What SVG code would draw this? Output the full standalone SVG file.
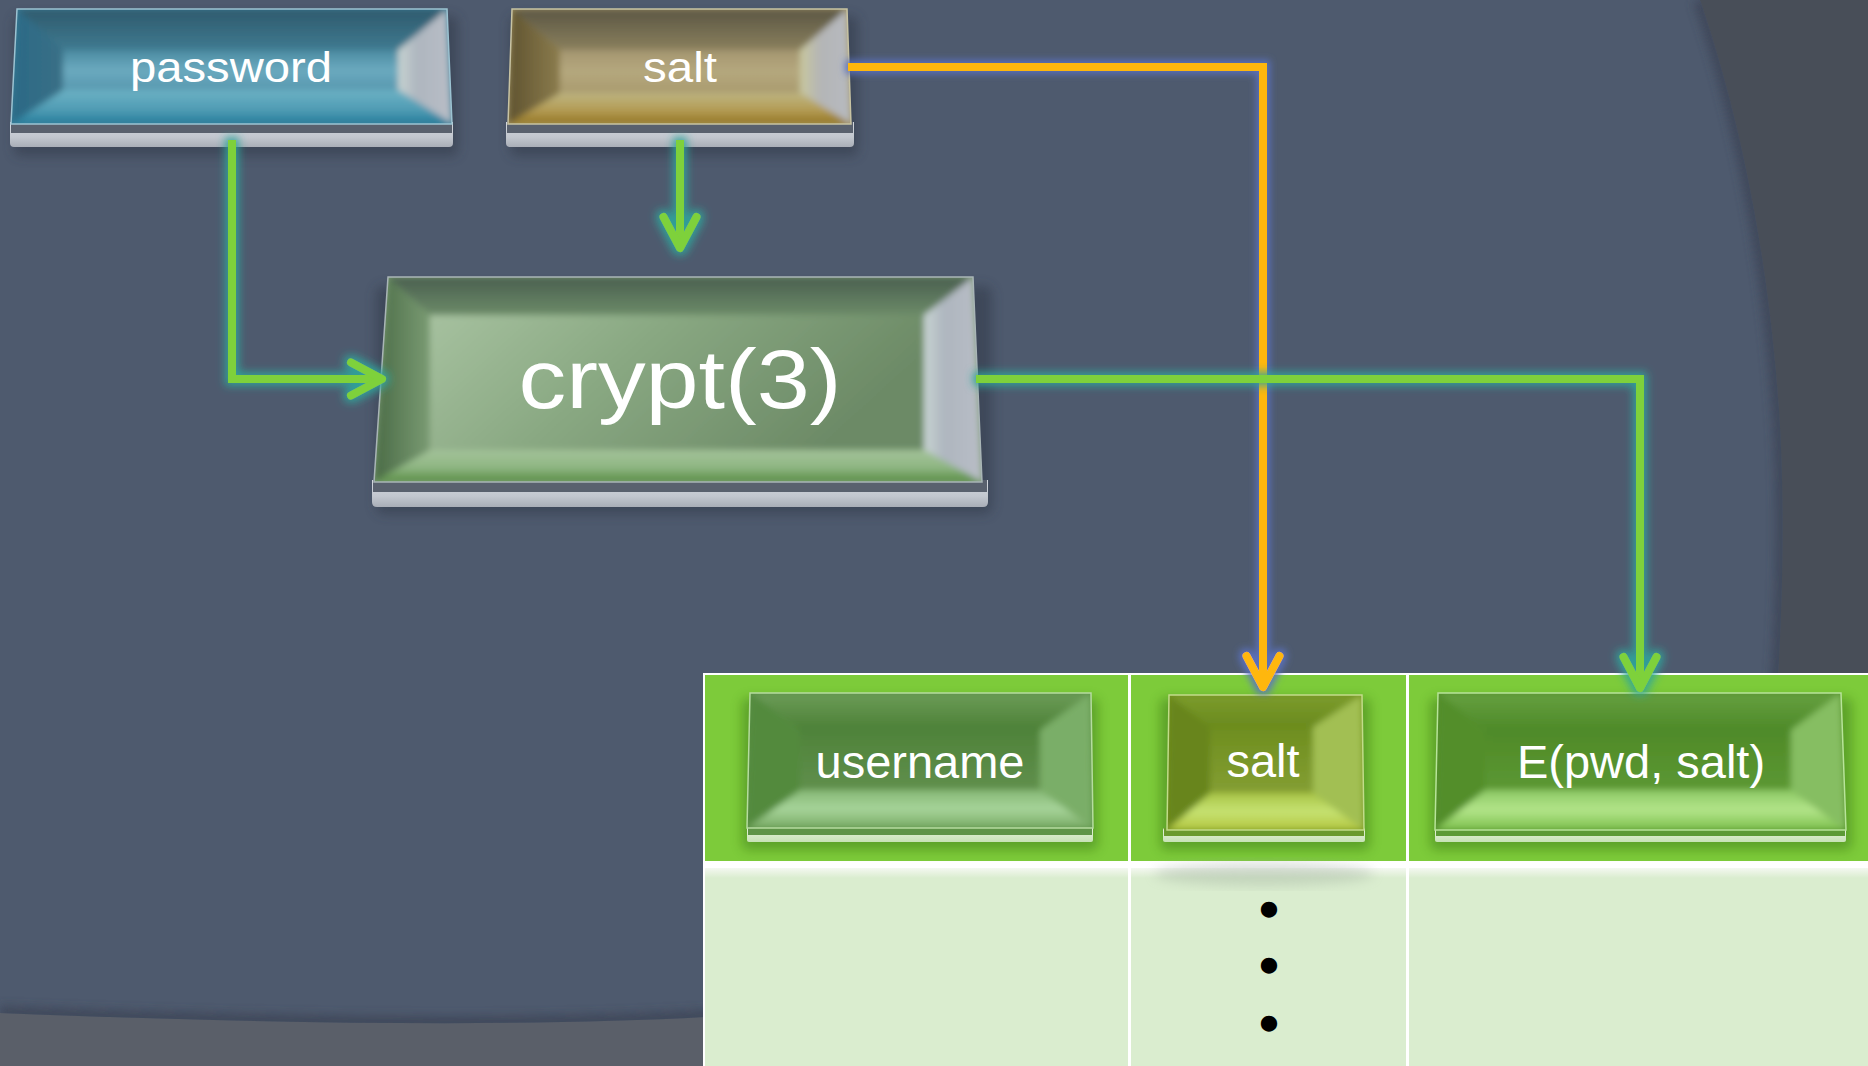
<svg xmlns="http://www.w3.org/2000/svg" width="1868" height="1066" viewBox="0 0 1868 1066">
  <defs>
    <style>
      .lbl{font-family:"Liberation Sans",Arial,Helvetica,sans-serif;fill:#ffffff;text-anchor:middle}
      .conn{fill:none;stroke-width:8}
      .green{stroke:#7ED13A}
      .orange{stroke:#FFB70A}
      .cell{fill:#7DCB3A}
      .body{fill:#DAEDCF}
      .rule{fill:#ffffff}
      .dot{font-family:"Liberation Sans",Arial,sans-serif;font-size:47px;fill:#000000;stroke:#000000;stroke-width:3.5px;text-anchor:middle}
    </style>

    <!-- glow around connectors -->
    <filter id="glowGreen" filterUnits="userSpaceOnUse" x="0" y="0" width="1868" height="1066">
      <feMorphology in="SourceAlpha" operator="dilate" radius="3" result="d"/>
      <feGaussianBlur in="d" stdDeviation="4" result="b"/>
      <feFlood flood-color="#2FA59B" flood-opacity="0.9"/>
      <feComposite in2="b" operator="in" result="g"/>
      <feMerge><feMergeNode in="g"/><feMergeNode in="SourceGraphic"/></feMerge>
    </filter>
    <filter id="glowBlue" filterUnits="userSpaceOnUse" x="0" y="0" width="1868" height="1066">
      <feMorphology in="SourceAlpha" operator="dilate" radius="3" result="d"/>
      <feGaussianBlur in="d" stdDeviation="3.5" result="b"/>
      <feFlood flood-color="#5A72C2" flood-opacity="0.9"/>
      <feComposite in2="b" operator="in" result="g"/>
      <feMerge><feMergeNode in="g"/><feMergeNode in="SourceGraphic"/></feMerge>
    </filter>
    <filter id="soft" x="-20%" y="-20%" width="140%" height="140%">
      <feGaussianBlur stdDeviation="6"/>
    </filter>
    <filter id="bevelSoft" x="-5%" y="-5%" width="110%" height="110%">
      <feGaussianBlur stdDeviation="3"/>
    </filter>
    <filter id="edgeBlur" filterUnits="userSpaceOnUse" x="0" y="0" width="1868" height="1066">
      <feGaussianBlur stdDeviation="5"/>
    </filter>

    <!-- open chevron arrowheads -->
    <marker id="headGreen" markerUnits="userSpaceOnUse" markerWidth="40" markerHeight="40" refX="0" refY="0" orient="auto" overflow="visible">
      <path d="M-31,-16.5 L0,0 L-31,16.5" fill="none" stroke="#7ED13A" stroke-width="8" stroke-linecap="round" stroke-linejoin="round"/>
    </marker>
    <marker id="headOrange" markerUnits="userSpaceOnUse" markerWidth="40" markerHeight="40" refX="0" refY="0" orient="auto" overflow="visible">
      <path d="M-31,-16.5 L0,0 L-31,16.5" fill="none" stroke="#FFB70A" stroke-width="8" stroke-linecap="round" stroke-linejoin="round"/>
    </marker>

    <clipPath id="stageClip">
      <path d="M0,0 L1700,0 C1738,110 1768,250 1779,410 C1790,580 1775,800 1742,1000 L705,1017 Q450,1031 0,1013 Z"/>
    </clipPath>
    <!-- button face outlines, reused as clips for the soft bevels -->
    <clipPath id="cpPassword"><polygon points="17,9 447,9 452,124 11,124"/></clipPath>
    <clipPath id="cpSaltIn"><polygon points="512,9 847,9 851,124 508,124"/></clipPath>
    <clipPath id="cpCrypt"><polygon points="388,277 973,277 982,482 374,482"/></clipPath>
    <clipPath id="cpUser"><polygon points="750,693 1091,693 1093,828 747,828"/></clipPath>
    <clipPath id="cpSaltCol"><polygon points="1169,695 1362,695 1364,830 1167,830"/></clipPath>
    <clipPath id="cpHash"><polygon points="1438,693 1841,693 1846,830 1435,830"/></clipPath>

    <!-- silver base bars -->
    <linearGradient id="silver" x1="0" y1="0" x2="0" y2="1">
      <stop offset="0" stop-color="#D3D7DE"/>
      <stop offset="0.6" stop-color="#C2C7CF"/>
      <stop offset="1" stop-color="#A9AEB7"/>
    </linearGradient>
    <linearGradient id="silverSide" x1="0" y1="0" x2="1" y2="0">
      <stop offset="0" stop-color="#C8D4D2"/>
      <stop offset="0.35" stop-color="#AEB6BF"/>
      <stop offset="1" stop-color="#B9BDC6"/>
    </linearGradient>
    <linearGradient id="paleBar" x1="0" y1="0" x2="0" y2="1">
      <stop offset="0" stop-color="#E9F5E0"/>
      <stop offset="1" stop-color="#C7E2B6"/>
    </linearGradient>

    <!-- password (teal) -->
    <linearGradient id="pwTop" x1="0" y1="0" x2="0" y2="1">
      <stop offset="0" stop-color="#2F5A6D"/>
      <stop offset="1" stop-color="#3F7A90"/>
    </linearGradient>
    <linearGradient id="pwLeft" x1="0" y1="0" x2="1" y2="0">
      <stop offset="0" stop-color="#2A6A86"/>
      <stop offset="1" stop-color="#3A6F86"/>
    </linearGradient>
    <linearGradient id="pwBottom" x1="0" y1="0" x2="0" y2="1">
      <stop offset="0" stop-color="#6DB2C5"/>
      <stop offset="0.6" stop-color="#4F9BB3"/>
      <stop offset="1" stop-color="#237C9B"/>
    </linearGradient>
    <linearGradient id="pwFace" x1="0" y1="0" x2="0" y2="1">
      <stop offset="0" stop-color="#4A8AA1"/>
      <stop offset="0.5" stop-color="#6CAABF"/>
      <stop offset="1" stop-color="#5898AF"/>
    </linearGradient>

    <!-- salt (bronze) -->
    <linearGradient id="stTop" x1="0" y1="0" x2="0" y2="1">
      <stop offset="0" stop-color="#5B5744"/>
      <stop offset="1" stop-color="#8A805D"/>
    </linearGradient>
    <linearGradient id="stLeft" x1="0" y1="0" x2="1" y2="0">
      <stop offset="0" stop-color="#5F5330"/>
      <stop offset="1" stop-color="#8B7C4D"/>
    </linearGradient>
    <linearGradient id="stBottom" x1="0" y1="0" x2="0" y2="1">
      <stop offset="0" stop-color="#BDB582"/>
      <stop offset="0.55" stop-color="#B49C55"/>
      <stop offset="1" stop-color="#93751F"/>
    </linearGradient>
    <linearGradient id="stFace" x1="0" y1="0" x2="0" y2="1">
      <stop offset="0" stop-color="#A49670"/>
      <stop offset="0.5" stop-color="#B5A87E"/>
      <stop offset="1" stop-color="#A99B6E"/>
    </linearGradient>
    <linearGradient id="stRight" x1="0" y1="0" x2="1" y2="0">
      <stop offset="0" stop-color="#C9C89E"/>
      <stop offset="0.4" stop-color="#B4B5B6"/>
      <stop offset="1" stop-color="#B7BAC0"/>
    </linearGradient>

    <!-- crypt (sage) -->
    <linearGradient id="crTop" x1="0" y1="0" x2="0" y2="1">
      <stop offset="0" stop-color="#4A5F50"/>
      <stop offset="1" stop-color="#6C8B68"/>
    </linearGradient>
    <linearGradient id="crLeft" x1="0" y1="0" x2="1" y2="0">
      <stop offset="0" stop-color="#4A6B46"/>
      <stop offset="1" stop-color="#7A9B73"/>
    </linearGradient>
    <linearGradient id="crBottom" x1="0" y1="0" x2="0" y2="1">
      <stop offset="0" stop-color="#A4C39A"/>
      <stop offset="0.55" stop-color="#8FB683"/>
      <stop offset="1" stop-color="#578C41"/>
    </linearGradient>
    <linearGradient id="crFace" x1="0" y1="0" x2="1" y2="0.3">
      <stop offset="0" stop-color="#A6C19F"/>
      <stop offset="0.45" stop-color="#89A882"/>
      <stop offset="1" stop-color="#6C8A66"/>
    </linearGradient>

    <!-- table nodes -->
    <linearGradient id="unTop" x1="0" y1="0" x2="0" y2="1">
      <stop offset="0" stop-color="#6C9C58"/>
      <stop offset="1" stop-color="#4C8036"/>
    </linearGradient>
    <linearGradient id="unBottom" x1="0" y1="0" x2="0" y2="1">
      <stop offset="0" stop-color="#86B875"/>
      <stop offset="0.5" stop-color="#A7D49A"/>
      <stop offset="1" stop-color="#78AA64"/>
    </linearGradient>
    <linearGradient id="unFace" x1="0" y1="0" x2="0" y2="1">
      <stop offset="0" stop-color="#4F833A"/>
      <stop offset="1" stop-color="#608F4C"/>
    </linearGradient>

    <linearGradient id="slTop" x1="0" y1="0" x2="0" y2="1">
      <stop offset="0" stop-color="#7C9C2C"/>
      <stop offset="1" stop-color="#6A8A1E"/>
    </linearGradient>
    <linearGradient id="slBottom" x1="0" y1="0" x2="0" y2="1">
      <stop offset="0" stop-color="#A8C445"/>
      <stop offset="0.5" stop-color="#C6E272"/>
      <stop offset="1" stop-color="#B3C640"/>
    </linearGradient>
    <linearGradient id="slFace" x1="0" y1="0" x2="0" y2="1">
      <stop offset="0" stop-color="#6E8E1F"/>
      <stop offset="1" stop-color="#849E33"/>
    </linearGradient>

    <linearGradient id="eTop" x1="0" y1="0" x2="0" y2="1">
      <stop offset="0" stop-color="#66A040"/>
      <stop offset="1" stop-color="#4E8A29"/>
    </linearGradient>
    <linearGradient id="eBottom" x1="0" y1="0" x2="0" y2="1">
      <stop offset="0" stop-color="#8CC864"/>
      <stop offset="0.5" stop-color="#B3E58A"/>
      <stop offset="1" stop-color="#7CBF4C"/>
    </linearGradient>
    <linearGradient id="eFace" x1="0" y1="0" x2="0" y2="1">
      <stop offset="0" stop-color="#4F8A28"/>
      <stop offset="1" stop-color="#5C9833"/>
    </linearGradient>

    <linearGradient id="sepFade" x1="0" y1="0" x2="0" y2="1">
      <stop offset="0" stop-color="#F4F8F1"/>
      <stop offset="1" stop-color="#DAEDCF"/>
    </linearGradient>
  </defs>

  <!-- backdrop -->
  <g id="backdrop">
    <rect width="1868" height="1066" fill="#484E58"/>
    <rect x="0" y="980" width="1000" height="86" fill="#5A5F69"/>
    <path d="M0,0 L1700,0 C1738,110 1768,250 1779,410 C1790,580 1775,800 1742,1000 L705,1017 Q450,1031 0,1013 Z" fill="#4E5A6E"/>
    <g clip-path="url(#stageClip)">
      <path d="M1700,0 C1738,110 1768,250 1779,410 C1790,580 1775,800 1742,1000 L705,1017 Q450,1031 0,1013" fill="none" stroke="#3C4556" stroke-width="14" opacity="0.8" filter="url(#edgeBlur)"/>
    </g>
  </g>

  <!-- password -->
  <g id="node-password">
    <rect x="14" y="16" width="444" height="140" rx="6" fill="#2A3240" opacity="0.45" filter="url(#soft)"/>
    <path d="M10,122 H453 V143 Q453,147 449,147 H14 Q10,147 10,143 Z" fill="url(#silver)"/>
    <rect x="11" y="122" width="441" height="11" fill="#59616E"/>
    <polygon points="17,9 447,9 452,124 11,124" fill="#3E7F98"/>
    <g clip-path="url(#cpPassword)">
      <g filter="url(#bevelSoft)">
        <polygon points="17,9 447,9 398,50 63,50" fill="url(#pwTop)"/>
        <polygon points="17,9 63,50 63,90 11,124" fill="url(#pwLeft)"/>
        <polygon points="447,9 452,124 398,90 398,50" fill="url(#silverSide)"/>
        <polygon points="63,90 398,90 452,124 11,124" fill="url(#pwBottom)"/>
        <rect x="63" y="50" width="335" height="40" fill="url(#pwFace)"/>
      </g>
    </g>
    <polygon points="17,9 447,9 452,124 11,124" fill="none" stroke="#9CC3D2" stroke-width="1.5"/>
    <text class="lbl" x="231" y="82" font-size="42" textLength="202" lengthAdjust="spacingAndGlyphs">password</text>
  </g>

  <!-- salt (input) -->
  <g id="node-salt-in">
    <rect x="510" y="16" width="348" height="140" rx="6" fill="#2A3240" opacity="0.45" filter="url(#soft)"/>
    <path d="M506,122 H854 V143 Q854,147 850,147 H510 Q506,147 506,143 Z" fill="url(#silver)"/>
    <rect x="507" y="122" width="346" height="11" fill="#59616E"/>
    <polygon points="512,9 847,9 851,124 508,124" fill="#A39566"/>
    <g clip-path="url(#cpSaltIn)">
      <g filter="url(#bevelSoft)">
        <polygon points="512,9 847,9 800,50 560,50" fill="url(#stTop)"/>
        <polygon points="512,9 560,50 560,93 508,124" fill="url(#stLeft)"/>
        <polygon points="847,9 851,124 800,93 800,50" fill="url(#stRight)"/>
        <polygon points="560,93 800,93 851,124 508,124" fill="url(#stBottom)"/>
        <rect x="560" y="50" width="240" height="43" fill="url(#stFace)"/>
      </g>
    </g>
    <polygon points="512,9 847,9 851,124 508,124" fill="none" stroke="#C8C3A3" stroke-width="1.5"/>
    <text class="lbl" x="680" y="82" font-size="42" textLength="74" lengthAdjust="spacingAndGlyphs">salt</text>
  </g>

  <!-- crypt(3) -->
  <g id="node-crypt">
    <rect x="376" y="286" width="616" height="228" rx="8" fill="#2A3240" opacity="0.45" filter="url(#soft)"/>
    <path d="M372,480 H988 V502 Q988,507 983,507 H377 Q372,507 372,502 Z" fill="url(#silver)"/>
    <rect x="373" y="480" width="614" height="12" fill="#59616E"/>
    <polygon points="388,277 973,277 982,482 374,482" fill="#7D9C76"/>
    <g clip-path="url(#cpCrypt)">
      <g filter="url(#bevelSoft)">
        <polygon points="388,277 973,277 924,315 430,315" fill="url(#crTop)"/>
        <polygon points="388,277 430,315 430,450 374,482" fill="url(#crLeft)"/>
        <polygon points="973,277 982,482 924,450 924,315" fill="url(#silverSide)"/>
        <polygon points="430,450 924,450 982,482 374,482" fill="url(#crBottom)"/>
        <rect x="430" y="315" width="494" height="135" fill="url(#crFace)"/>
      </g>
    </g>
    <polygon points="388,277 973,277 982,482 374,482" fill="none" stroke="#A9B5B6" stroke-width="1.5"/>
    <text class="lbl" x="680" y="408" font-size="83" textLength="323" lengthAdjust="spacingAndGlyphs">crypt(3)</text>
  </g>

  <!-- password table -->
  <g id="table">
    <rect x="703" y="673" width="1170" height="400" fill="#ffffff"/>
    <rect class="cell" x="705" y="675" width="1165" height="186"/>
    <rect class="body" x="705" y="868" width="1165" height="200"/>
    <rect x="705" y="868" width="1165" height="10" fill="url(#sepFade)"/>
    <ellipse cx="1264" cy="874" rx="110" ry="12" fill="#9AA89A" opacity="0.35" filter="url(#soft)"/>
    <rect class="rule" x="1128" y="673" width="3" height="400"/>
    <rect class="rule" x="1406" y="673" width="3" height="400"/>
    <text class="dot"><tspan x="1269" y="925">•</tspan><tspan x="1269" y="981">•</tspan><tspan x="1269" y="1039">•</tspan></text>
  </g>

  <g id="node-username">
    <rect x="742" y="698" width="356" height="152" rx="6" fill="#2C6410" opacity="0.4" filter="url(#soft)"/>
    <rect x="747" y="826" width="346" height="16" rx="2" fill="url(#paleBar)"/>
    <rect x="748" y="826" width="344" height="9" fill="#5E9447"/>
    <polygon points="750,693 1091,693 1093,828 747,828" fill="#5A8F45"/>
    <g clip-path="url(#cpUser)">
      <g filter="url(#bevelSoft)">
        <polygon points="750,693 1091,693 1040,730 800,730" fill="url(#unTop)"/>
        <polygon points="750,693 800,730 800,790 747,828" fill="#538A3E"/>
        <polygon points="1091,693 1093,828 1040,790 1040,730" fill="#7AAE68"/>
        <polygon points="800,790 1040,790 1093,828 747,828" fill="url(#unBottom)"/>
        <rect x="800" y="730" width="240" height="60" fill="url(#unFace)"/>
      </g>
    </g>
    <polygon points="750,693 1091,693 1093,828 747,828" fill="none" stroke="#B6DCA0" stroke-width="1.5"/>
    <text class="lbl" x="920" y="778" font-size="47">username</text>
  </g>

  <g id="node-salt-col">
    <rect x="1160" y="698" width="210" height="152" rx="6" fill="#2C6410" opacity="0.4" filter="url(#soft)"/>
    <rect x="1163" y="828" width="202" height="14" rx="2" fill="url(#paleBar)"/>
    <rect x="1164" y="828" width="200" height="8" fill="#6A9A2E"/>
    <polygon points="1169,695 1362,695 1364,830 1167,830" fill="#74921F"/>
    <g clip-path="url(#cpSaltCol)">
      <g filter="url(#bevelSoft)">
        <polygon points="1169,695 1362,695 1313,727 1210,727" fill="url(#slTop)"/>
        <polygon points="1169,695 1210,727 1210,793 1167,830" fill="#67851A"/>
        <polygon points="1362,695 1364,830 1313,793 1313,727" fill="#A2BF52"/>
        <polygon points="1210,793 1313,793 1364,830 1167,830" fill="url(#slBottom)"/>
        <rect x="1210" y="727" width="103" height="66" fill="url(#slFace)"/>
      </g>
    </g>
    <polygon points="1169,695 1362,695 1364,830 1167,830" fill="none" stroke="#C2DC8A" stroke-width="1.5"/>
    <text class="lbl" x="1263" y="777" font-size="47">salt</text>
  </g>

  <g id="node-hash">
    <rect x="1430" y="698" width="422" height="152" rx="6" fill="#2C6410" opacity="0.4" filter="url(#soft)"/>
    <rect x="1435" y="828" width="411" height="14" rx="2" fill="url(#paleBar)"/>
    <rect x="1436" y="828" width="409" height="8" fill="#5C9A36"/>
    <polygon points="1438,693 1841,693 1846,830 1435,830" fill="#55902C"/>
    <g clip-path="url(#cpHash)">
      <g filter="url(#bevelSoft)">
        <polygon points="1438,693 1841,693 1791,730 1485,730" fill="url(#eTop)"/>
        <polygon points="1438,693 1485,730 1485,790 1435,830" fill="#528E2C"/>
        <polygon points="1841,693 1846,830 1791,790 1791,730" fill="#86BE62"/>
        <polygon points="1485,790 1791,790 1846,830 1435,830" fill="url(#eBottom)"/>
        <rect x="1485" y="730" width="306" height="60" fill="url(#eFace)"/>
      </g>
    </g>
    <polygon points="1438,693 1841,693 1846,830 1435,830" fill="none" stroke="#B8E49A" stroke-width="1.5"/>
    <text class="lbl" x="1641" y="778" font-size="47">E(pwd, salt)</text>
  </g>

  <!-- connectors -->
  <g id="connectors">
    <g filter="url(#glowBlue)">
      <path class="conn orange" d="M848,67 H1263 V687" marker-end="url(#headOrange)"/>
    </g>
    <g filter="url(#glowGreen)">
      <path class="conn green" d="M232,140 V379 H382" marker-end="url(#headGreen)"/>
      <path class="conn green" d="M680,140 V248" marker-end="url(#headGreen)"/>
      <path class="conn green" d="M976,379 H1640 V688" marker-end="url(#headGreen)"/>
    </g>
  </g>
</svg>
